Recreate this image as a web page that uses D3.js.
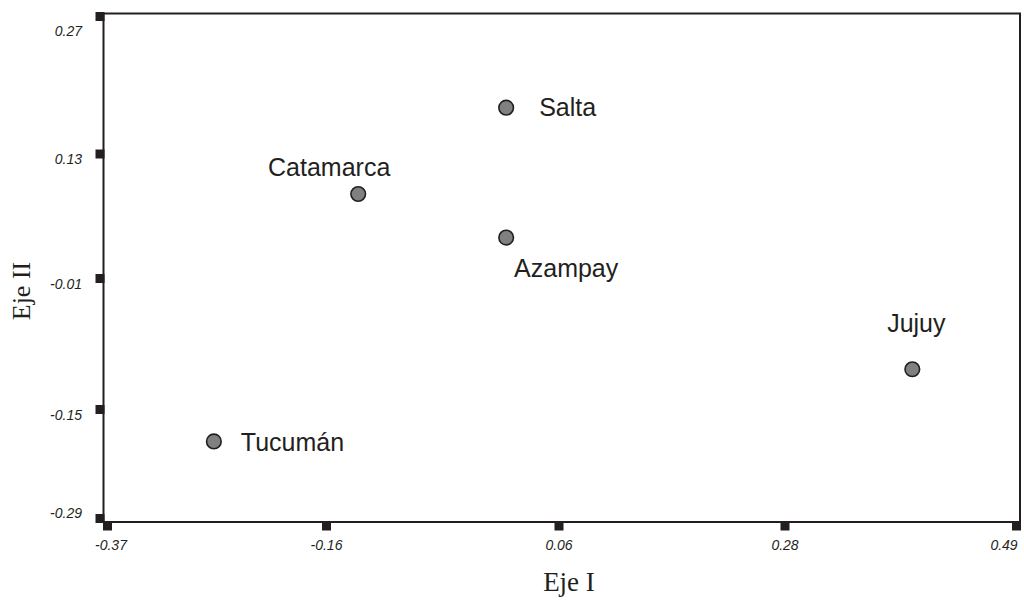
<!DOCTYPE html>
<html>
<head>
<meta charset="utf-8">
<script src="https://cdn.jsdelivr.net/npm/d3@7"></script>
<style>
  html, body { margin: 0; padding: 0; background: #fff; }
  svg { display: block; }
</style>
</head>
<body>
<svg id="chart" width="1024" height="601"></svg>
<script>
// ---- data ----
const places  = ["Salta", "Catamarca", "Azampay", "Jujuy", "Tucumán"];
const ejeI    = [0.01, -0.13, 0.01, 0.395, -0.268];
const ejeII   = [0.177, 0.085, 0.036, -0.107, -0.191];
const xTicks  = [-0.37, -0.16, 0.06, 0.28, 0.49];
const yTicks  = [-0.29, -0.15, -0.01, 0.13, 0.27];
const xTitle  = "Eje I";
const yTitle  = "Eje II";

// ---- layout ----
const frame = { left: 103.5, top: 13.5, right: 1020, bottom: 522 };
const ink = "#231f20";

// piecewise scales so the ticks land where the original places them
const x = d3.scaleLinear().domain(xTicks).range([107.5, 326.5, 559, 785, 1017.5]);
const y = d3.scaleLinear().domain(yTicks).range([518.5, 409.5, 278.5, 154, 16]);

const svg = d3.select("#chart");

// frame
svg.append("rect")
  .attr("x", frame.left).attr("y", frame.top)
  .attr("width", frame.right - frame.left)
  .attr("height", frame.bottom - frame.top)
  .attr("fill", "none").attr("stroke", ink).attr("stroke-width", 2);

// y ticks (squares outside left edge)
const tick = 9;
svg.append("g").selectAll("rect").data(yTicks).join("rect")
  .attr("x", frame.left - tick + 1)
  .attr("y", d => Math.min(Math.max(y(d) - tick / 2, frame.top - 1.5), frame.bottom - tick + 1))
  .attr("width", tick).attr("height", tick).attr("fill", ink);

svg.append("g").selectAll("text").data(yTicks).join("text")
  .attr("x", 82)
  .attr("y", d => Math.min(Math.max(y(d) + 5, 31), 513) + 5)
  .attr("text-anchor", "end")
  .attr("font-family", "Liberation Sans, Arial, sans-serif")
  .attr("font-style", "italic")
  .attr("font-size", 14)
  .attr("fill", ink)
  .text(d => d.toFixed(2));

// x ticks (squares below bottom edge)
svg.append("g").selectAll("rect").data(xTicks).join("rect")
  .attr("x", d => Math.min(Math.max(x(d) - tick / 2, frame.left - 0.5), frame.right - tick + 1))
  .attr("y", frame.bottom - 0.5)
  .attr("width", tick).attr("height", tick).attr("fill", ink);

svg.append("g").selectAll("text").data(xTicks).join("text")
  .attr("x", d => Math.min(Math.max(x(d), 111), 1004))
  .attr("y", 550)
  .attr("text-anchor", "middle")
  .attr("font-family", "Liberation Sans, Arial, sans-serif")
  .attr("font-style", "italic")
  .attr("font-size", 14)
  .attr("fill", ink)
  .text(d => d.toFixed(2));

// axis titles
svg.append("text")
  .attr("x", 569).attr("y", 591)
  .attr("text-anchor", "middle")
  .attr("font-family", "Liberation Serif, Times New Roman, serif")
  .attr("font-size", 27)
  .attr("fill", ink)
  .text(xTitle);

svg.append("text")
  .attr("transform", "translate(30,291) rotate(-90)")
  .attr("text-anchor", "middle")
  .attr("font-family", "Liberation Serif, Times New Roman, serif")
  .attr("font-size", 26)
  .attr("fill", ink)
  .text(yTitle);

// points
const pts = places.map((p, i) => ({ name: p, x: ejeI[i], y: ejeII[i] }));
svg.append("g").selectAll("circle").data(pts).join("circle")
  .attr("cx", d => x(d.x)).attr("cy", d => y(d.y))
  .attr("r", 7.3)
  .attr("fill", "#808080")
  .attr("stroke", ink).attr("stroke-width", 1.6);

// point labels (offsets relative to each marker)
const labelPlacement = {
  "Salta":     { dx: 33,  dy: 8,   anchor: "start" },
  "Catamarca": { dx: -29, dy: -18, anchor: "middle" },
  "Azampay":   { dx: 60,  dy: 39,  anchor: "middle" },
  "Jujuy":     { dx: 4,   dy: -37, anchor: "middle" },
  "Tucumán":   { dx: 27,  dy: 10,  anchor: "start" }
};
svg.append("g").selectAll("text").data(pts).join("text")
  .attr("x", d => x(d.x) + labelPlacement[d.name].dx)
  .attr("y", d => y(d.y) + labelPlacement[d.name].dy)
  .attr("text-anchor", d => labelPlacement[d.name].anchor)
  .attr("font-family", "Liberation Sans, Arial, sans-serif")
  .attr("font-size", 25)
  .attr("fill", ink)
  .text(d => d.name);
</script>
</body>
</html>
